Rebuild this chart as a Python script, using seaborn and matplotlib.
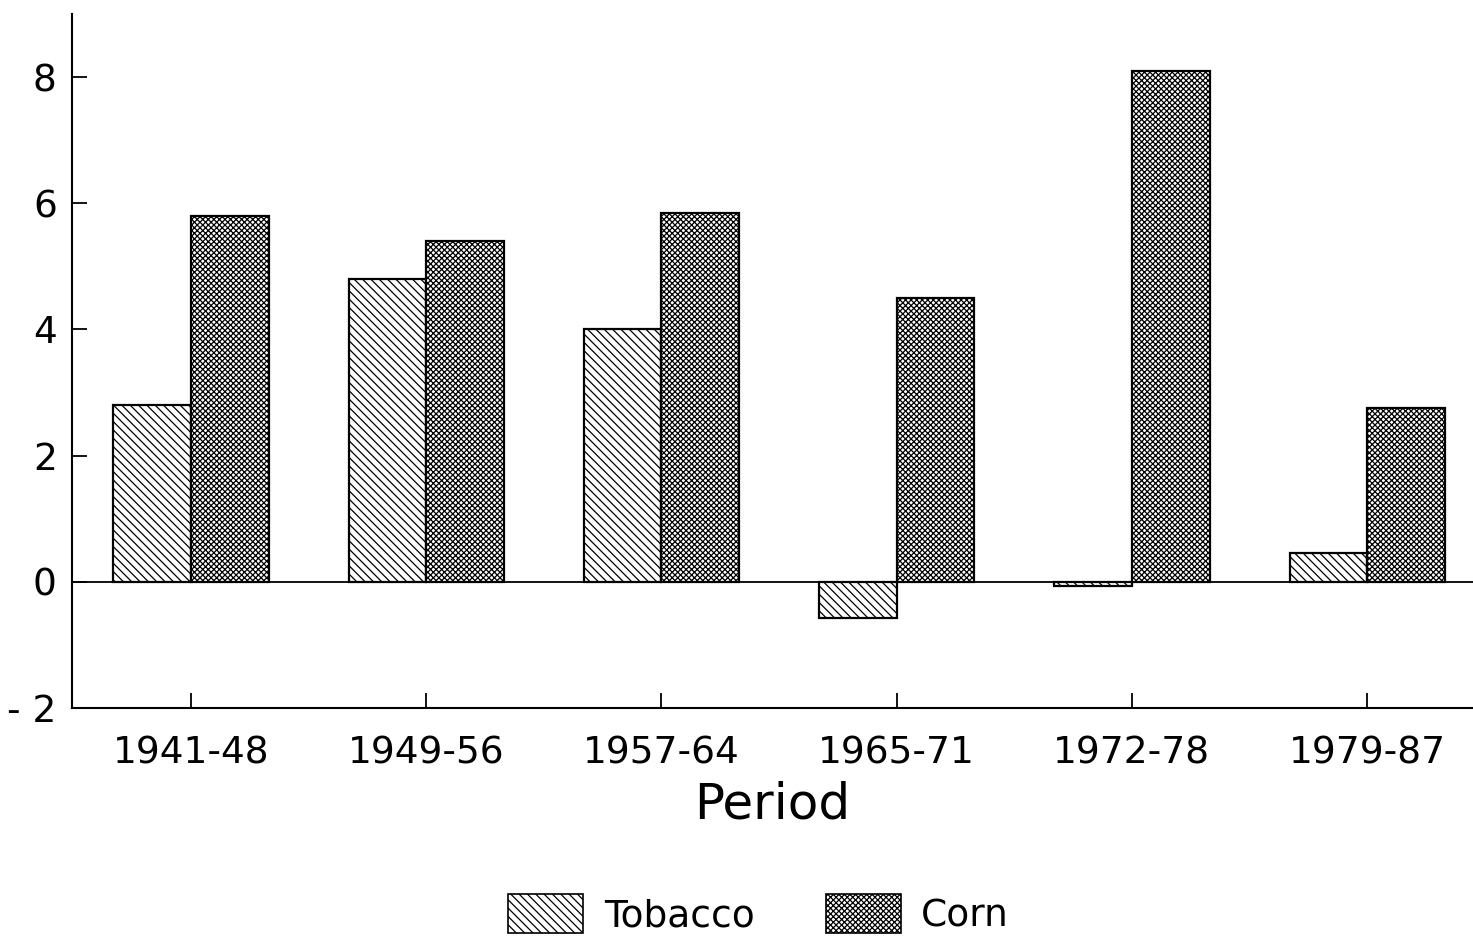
import matplotlib
matplotlib.use("Agg")
import matplotlib.pyplot as plt
from matplotlib.patches import Patch
import seaborn as sns
import pandas as pd

# values
periods = ["1941-48", "1949-56", "1957-64", "1965-71", "1972-78", "1979-87"]
tobacco = [2.8, 4.8, 4.0, -0.57, -0.07, 0.46]
corn = [5.8, 5.4, 5.85, 4.5, 8.1, 2.75]

data = pd.DataFrame({
    "period": periods * 2,
    "value": tobacco + corn,
    "crop": ["Tobacco"] * len(periods) + ["Corn"] * len(periods),
})

sns.set_theme(style="white")
plt.rcParams["font.family"] = ["DejaVu Sans"]
plt.rcParams["text.color"] = "black"
plt.rcParams["axes.labelcolor"] = "black"
plt.rcParams["xtick.color"] = "black"
plt.rcParams["ytick.color"] = "black"
plt.rcParams["hatch.linewidth"] = 0.9

fig = plt.figure(figsize=(14.73, 9.36), dpi=100)
ax = fig.add_axes([0.0489, 0.2436, 0.9511, 0.7415])

sns.barplot(data=data, x="period", y="value", hue="crop", order=periods,
            hue_order=["Tobacco", "Corn"], palette=["white", "white"],
            width=0.66, gap=0, edgecolor="black", linewidth=1.6,
            legend=False, ax=ax)

hatches = ["\\\\\\\\", "xxxxxx"]
for cont, h in zip(ax.containers, hatches):
    for bar in cont:
        bar.set_hatch(h)

ax.axhline(0, color="black", lw=1.3, zorder=3)
ax.set_xlim(-0.506, 5.45)
ax.set_ylim(-2, 9)
ax.set_yticks([-2, 0, 2, 4, 6, 8])
ax.set_yticklabels(["- 2", "0", "2", "4", "6", "8"])

for s in ["top", "right"]:
    ax.spines[s].set_visible(False)
for s in ["left", "bottom"]:
    ax.spines[s].set_color("black")
    ax.spines[s].set_linewidth(1.5)

ax.tick_params(axis="both", direction="in", length=11, width=1.3,
               bottom=True, left=True, labelsize=27, labelcolor="black")
ax.tick_params(axis="x", pad=20)
ax.tick_params(axis="y", pad=11)
ax.set_ylabel("")
ax.set_xlabel("Period", fontsize=36, labelpad=6, color="black")

handles = [Patch(facecolor="white", edgecolor="black", hatch=hatches[0], lw=1.2),
           Patch(facecolor="white", edgecolor="black", hatch=hatches[1], lw=1.2)]
fig.legend(handles, ["Tobacco", "Corn"], loc="lower center",
           bbox_to_anchor=(0.515, -0.022), ncol=2, frameon=False, fontsize=27,
           handlelength=2.0, handleheight=1.2, columnspacing=1.9,
           handletextpad=0.55, borderaxespad=0.2)

plt.savefig("out.png", dpi=100)
plt.close()
